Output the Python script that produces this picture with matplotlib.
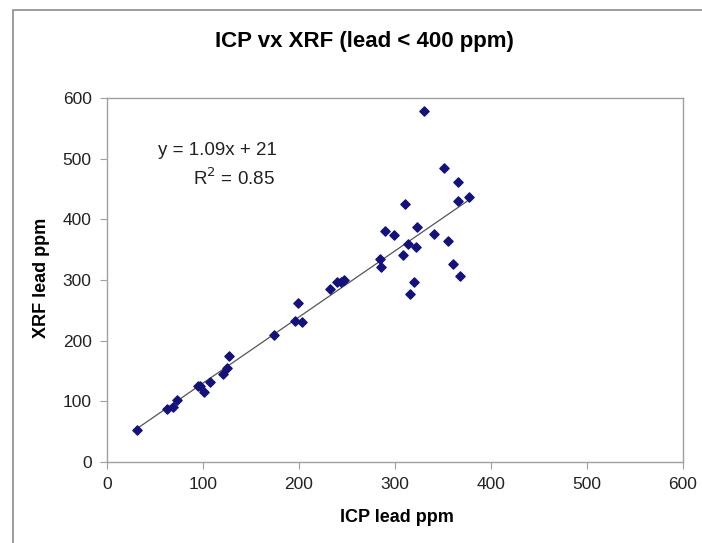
import matplotlib
matplotlib.use("Agg")
import matplotlib.pyplot as plt
import numpy as np
from matplotlib.patches import Rectangle

plt.rcParams['font.family'] = ['Liberation Sans', 'DejaVu Sans']

icp = [31, 63, 69, 73, 95, 97, 101, 107, 121, 125, 127, 174, 196, 199, 203,
       232, 240, 244, 247, 284, 285, 290, 299, 308, 310, 314, 316, 320, 322, 323,
       330, 341, 351, 355, 360, 366, 366, 368, 377]
xrf = [52, 88, 91, 103, 125, 125, 115, 132, 145, 155, 175, 210, 233, 262, 230,
       285, 296, 297, 300, 334, 321, 380, 374, 342, 426, 360, 277, 297, 355, 388,
       578, 376, 485, 365, 326, 461, 431, 307, 437]
slope = 1.09
intercept = 21
eq_text = "y = 1.09x + 21"
r2_text = "R$^2$ = 0.85"
title = "ICP vx XRF (lead < 400 ppm)"
xlabel = "ICP lead ppm"
ylabel = "XRF lead ppm"
ticks = [0, 100, 200, 300, 400, 500, 600]

W, H = 702, 543
fig = plt.figure(figsize=(W/100, H/100), dpi=100)
fig.patch.set_facecolor('white')
# outer chart border
fig.add_artist(Rectangle((13/W, -0.1), 1.2, 1 - 10/H + 0.1, transform=fig.transFigure,
                         fill=False, edgecolor='#8c8c8c', lw=1.2))

ax = fig.add_axes([107/W, 1 - 462/H, (683-107)/W, (462-98)/H])
ax.set_xlim(0, 600)
ax.set_ylim(0, 600)
ax.set_xticks(ticks)
ax.set_yticks(ticks)
for s in ax.spines.values():
    s.set_color('#a0a0a0')
    s.set_linewidth(1.0)
ax.tick_params(direction='out', length=5, color='#a0a0a0', labelsize=12.5,
               labelcolor='#222222', pad=6)

xs = np.array([min(icp), max(icp)])
ax.plot(xs, slope*xs + intercept, color='#555555', lw=0.9, zorder=2)
ax.scatter(icp, xrf, marker='D', s=22, color='#14127a', edgecolors='#14127a', zorder=3)

ax.text(177, 513, eq_text, ha='right', va='center', fontsize=13.5, color='#222222')
ax.text(175, 468, r2_text, ha='right', va='center', fontsize=13.5, color='#222222')

fig.text(364/W, 1 - 42/H, title, ha='center', va='center', fontsize=16, fontweight='bold')
fig.text(397/W, 1 - 518/H, xlabel, ha='center', va='center', fontsize=13, fontweight='bold')
fig.text(42/W, 1 - 278/H, ylabel, ha='center', va='center', fontsize=13, fontweight='bold',
         rotation=90)

fig.savefig("out.png", dpi=100)
